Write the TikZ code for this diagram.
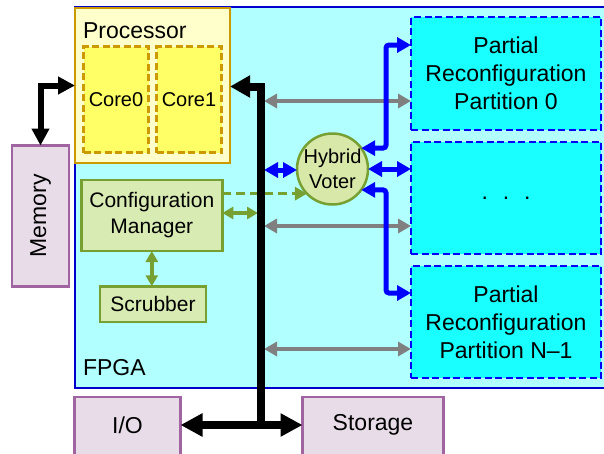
\documentclass[tikz,border=0pt]{standalone}
\usepackage{fontspec}
\setmainfont{Liberation Sans}
\usetikzlibrary{arrows.meta}
\definecolor{fpgafill}{HTML}{B2FFFF}
\definecolor{fpgaline}{HTML}{0000CC}
\definecolor{procfill}{HTML}{FFFFCC}
\definecolor{procline}{HTML}{CC9900}
\definecolor{corefill}{HTML}{FFFF66}
\definecolor{grnfill}{HTML}{D7EBB3}
\definecolor{grnline}{HTML}{77A033}
\definecolor{votfill}{HTML}{D8E8A8}
\definecolor{prfill}{HTML}{19FFFF}
\definecolor{prline}{HTML}{0000FF}
\definecolor{extfill}{HTML}{E8DCE8}
\definecolor{extline}{HTML}{A064A0}
\definecolor{grayarrc}{HTML}{808080}
\begin{document}
\begin{tikzpicture}[x=1pt,y=-1pt,
  every node/.style={inner sep=0pt, outer sep=0pt, align=center},
  bigtxt/.style={font=\fontsize{23}{28}\selectfont},
  midtxt/.style={font=\fontsize{21}{26}\selectfont},
  smltxt/.style={font=\fontsize{20}{25}\selectfont},
  fpgabox/.style={draw=fpgaline, fill=fpgafill, line width=2.5pt},
  procbox/.style={draw=procline, fill=procfill, line width=2.5pt},
  corebox/.style={draw=procline, fill=corefill, line width=2.5pt, dash pattern=on 7pt off 3.5pt},
  grnbox/.style={draw=grnline, fill=grnfill, line width=2.5pt},
  votc/.style={circle, draw=grnline, fill=votfill, line width=2.5pt, minimum size=71pt},
  prbox/.style={draw=prline, fill=prfill, line width=2.5pt, dash pattern=on 7pt off 3.5pt},
  extbox/.style={draw=extline, fill=extfill, line width=2.5pt},
  busline/.style={draw=black, line width=8pt},
  memarr/.style={draw=black, line width=6pt, {Triangle[length=17pt,width=17pt]}-{Triangle[length=17pt,width=17pt]}},
  grayarr/.style={draw=grayarrc, line width=4.5pt, {Triangle[length=13pt,width=14pt]}-{Triangle[length=13pt,width=14pt]}},
  bluarr/.style={draw=prline, line width=5pt, {Triangle[length=14pt,width=15pt]}-{Triangle[length=14pt,width=15pt]}},
  grnarr/.style={draw=grnline, line width=3.5pt, {Triangle[length=11pt,width=12pt]}-{Triangle[length=11pt,width=12pt]}},
  grndash/.style={draw=grnline, line width=3.5pt, dash pattern=on 9pt off 5pt, -{Triangle[length=12pt,width=13pt]}}
]
\useasboundingbox (0,0) rectangle (604,453);
\clip (0,0) rectangle (604,453);

% FPGA
\node[fpgabox, minimum width=535pt, minimum height=381pt] (fpga) at (342.5,197.5) {};
\node[bigtxt, anchor=west] (fpgalbl) at (83,368) {FPGA};

% partitions
\node[prbox, minimum width=190pt, minimum height=113pt, bigtxt] (pr0) at (506,73.7) {Partial\\Reconfiguration\\Partition 0};
\node[prbox, minimum width=190pt, minimum height=112pt, bigtxt] (prm) at (506,198) {. \ . \ .};
\node[prbox, minimum width=190pt, minimum height=112pt, bigtxt] (prn) at (506,322) {Partial\\Reconfiguration\\Partition N\textendash1};

% external
\node[extbox, minimum width=57pt, minimum height=141pt, bigtxt] (mem) at (40.5,216) {\rotatebox{90}{Memory}};
\node[extbox, minimum width=106pt, minimum height=70pt] (io) at (127.5,432) {};
\node[bigtxt] (iotxt) at (127.5,425) {I/O};
\node[extbox, minimum width=141pt, minimum height=70pt] (sto) at (373,432) {};
\node[bigtxt] (stotxt) at (373,425) {Storage};

% processor
\node[procbox, minimum width=155pt, minimum height=155pt] (proc) at (152.5,85.5) {};
\node[bigtxt, anchor=west] (proclbl) at (83,31) {Processor};
\node[corebox, minimum width=65pt, minimum height=106pt, smltxt] (c0) at (116,99.7) {Core0};
\node[corebox, minimum width=65pt, minimum height=106pt, smltxt] (c1) at (189,99.7) {Core1};

% config manager, scrubber, voter
\node[grnbox, minimum width=141pt, minimum height=71pt, midtxt] (cm) at (151.8,215.5) {Configuration\\Manager};
\node[grnbox, minimum width=106pt, minimum height=35.5pt, midtxt] (scr) at (153,304) {Scrubber};
\node[votc, smltxt] (vot) at (332.5,169) {Hybrid\\Voter};

% coordinates on the bus
\coordinate (bt) at (261,86.5);
\coordinate (bb) at (261,425);
\coordinate (g0) at (264,101);
\coordinate (g1) at (264,226);
\coordinate (g2) at (264,349);
\coordinate (bl) at (264,170);
\coordinate (gb) at (258,213);
\coordinate (tj) at (386,45);
\coordinate (bj) at (386,293);

% gray arrows
\draw[grayarr] (g0) -- (g0 -| pr0.west);
\draw[grayarr] (g1) -- (g1 -| prm.west);
\draw[grayarr] (g2) -- (g2 -| prn.west);

% blue arrows
\draw[bluarr] (bl) -- (bl -| vot.west);
\draw[bluarr] (vot.east) -- (vot.east -| prm.west);
\draw[bluarr, rounded corners=3pt] (vot.36) -| (tj) -- (tj -| pr0.west);
\draw[bluarr, rounded corners=3pt] (vot.-36) -| (bj) -- (bj -| prn.west);

% green arrows
\draw[grndash] (cm.east |- vot.224) -- (vot.224);
\draw[grnarr] (cm.east |- gb) -- (gb);
\draw[grnarr] (cm.south) -- (cm.south |- scr.north);

% bus
\draw[busline, -{Triangle[length=20pt,width=21pt]}] (bb) -- (bt) -- (proc.east |- bt);
\draw[busline, {Triangle[length=22pt,width=22pt]}-{Triangle[length=22pt,width=22pt]}] (io.east |- bb) -- (sto.west |- bb);
\draw[memarr] (mem.north) |- (proc.west);
\end{tikzpicture}
\end{document}
